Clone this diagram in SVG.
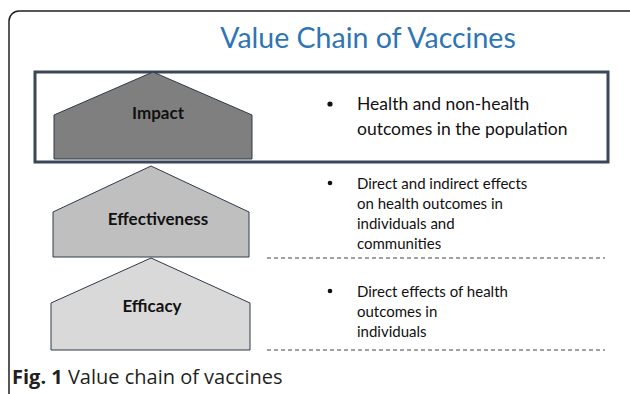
<svg xmlns="http://www.w3.org/2000/svg" width="630" height="394" viewBox="0 0 630 394">
<style>
.frame{fill:none;stroke:#231f20;stroke-width:1.5}
.box{fill:none;stroke:#3b4659;stroke-width:3}
.house{stroke:#2f3a4a;stroke-width:1}
.lbl{font-family:Lato,"Open Sans",sans-serif;font-weight:bold;font-size:17px;fill:#111;text-anchor:middle}
.txt{font-family:Lato,"Open Sans",sans-serif;fill:#111}
.dash{stroke:#444;stroke-width:1;stroke-dasharray:4 3}
</style>
<rect class="frame" x="9" y="11" width="640" height="400" rx="10"/>
<text x="368" y="48" font-family="Lato,'Open Sans',sans-serif" font-size="28.5" fill="#2e75b6" text-anchor="middle">Value Chain of Vaccines</text>
<g id="impact-box"><rect class="box" x="35" y="72" width="573" height="90"/></g>
<g id="impact">
<polygon class="house" points="153,72 252,115 252,159 54,159 54,115" fill="#7f7f7f"/>
<text class="lbl" x="158" y="119">Impact</text>
</g>
<g id="effectiveness">
<polygon class="house" points="151,166 249,212 249,257 53,257 53,212" fill="#bfbfbf"/>
<text class="lbl" x="158" y="225">Effectiveness</text>
</g>
<g id="efficacy">
<polygon class="house" points="151,258 250,303 250,350 51,350 51,303" fill="#d9d9d9"/>
<text class="lbl" x="152" y="312">Efficacy</text>
</g>
<g id="impact-text" class="txt" font-size="17.5">
<circle cx="330" cy="104" r="2.6" fill="#111"/>
<text x="357" y="110">Health and non-health</text>
<text x="357" y="135">outcomes in the population</text>
</g>
<g id="effectiveness-text" class="txt" font-size="15">
<circle cx="330" cy="183" r="2.3" fill="#111"/>
<text x="357" y="189">Direct and indirect effects</text>
<text x="357" y="209">on health outcomes in</text>
<text x="357" y="229">individuals and</text>
<text x="357" y="249">communities</text>
</g>
<g id="efficacy-text" class="txt" font-size="15">
<circle cx="330" cy="291" r="2.3" fill="#111"/>
<text x="357" y="297">Direct effects of health</text>
<text x="357" y="317">outcomes in</text>
<text x="357" y="337">individuals</text>
</g>
<g id="connectors">
<line class="dash" x1="267" y1="258" x2="605" y2="258"/>
<line class="dash" x1="267" y1="350" x2="605" y2="350"/>
</g>
<text x="12" y="384" font-family="'Open Sans',sans-serif" font-size="20" fill="#231f20"><tspan font-weight="bold">Fig. 1</tspan> Value chain of vaccines</text>
</svg>
